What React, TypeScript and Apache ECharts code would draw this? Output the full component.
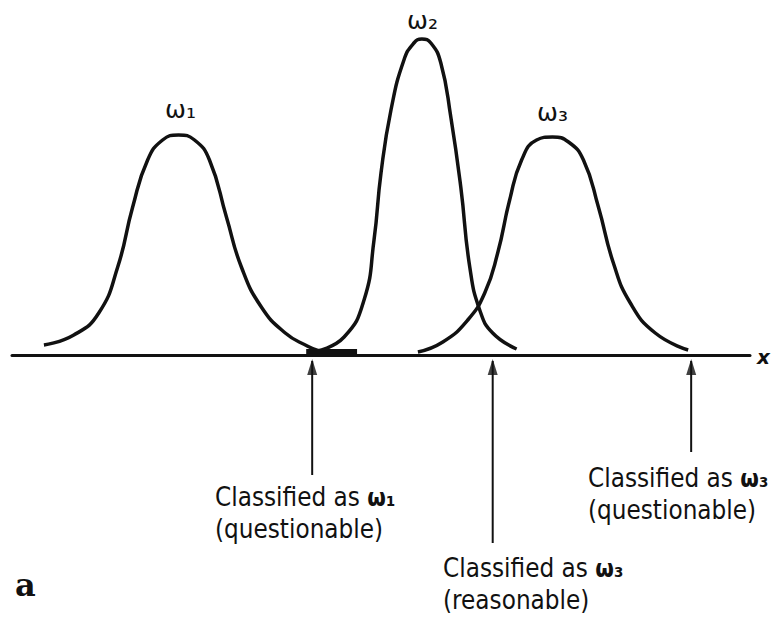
import React, { useEffect, useRef } from "react";
import * as echarts from "echarts";

// Class-conditional densities (x in axis units, y = density height in axis units)
const W1_X = [32, 62, 87, 106, 121, 136, 151, 167, 183, 198, 215, 230, 250, 274, 296, 308];
const W1_Y = [10, 20, 42, 88, 148, 195, 215, 220, 215, 195, 138, 88, 48, 22, 9, 4];
const W2_X = [306, 333, 353, 363, 370, 380, 393, 403, 411, 420, 430, 440, 450, 459, 469, 482, 506];
const W2_Y = [4, 18, 55, 115, 182, 245, 295, 312, 316, 312, 292, 238, 168, 88, 45, 22, 6];
const W3_X = [407, 432, 457, 474, 487, 499, 511, 526, 542, 558, 573, 588, 603, 620, 645, 678];
const W3_Y = [3, 13, 35, 62, 102, 155, 195, 215, 218, 213, 195, 148, 92, 52, 22, 5];

// Overlap region marker on the axis
const BAR_X = [295, 346];
const BAR_Y = [3, 3];

// Decision points marked by arrows
const ARROW_X = [301, 482, 681];
const ARROW_END = [-120, -188, -97];

const X_MIN = 0;
const X_MAX = 740;
const Y_MIN = -266;
const Y_MAX = 340;

const zip = (xs: number[], ys: number[]) => xs.map((x, i) => [x, ys[i]]);

const INK = "#111";
const TXT = "DejaVu Sans";
const SQUEEZE = 0.86;

export default function App() {
  const ref = useRef<HTMLDivElement>(null);
  useEffect(() => {
    if (!ref.current) return;
    const chart = echarts.init(ref.current, undefined, { renderer: "svg" });

    const curve = (name: string, xs: number[], ys: number[]) => ({
      name,
      type: "line",
      data: zip(xs, ys),
      smooth: 0.5,
      showSymbol: false,
      lineStyle: { color: INK, width: 3.5 },
      z: 3,
    });

    const arrowLines = ARROW_X.map((x, i) => ({
      type: "line",
      data: [
        [x, -6],
        [x, ARROW_END[i]],
      ],
      showSymbol: false,
      lineStyle: { color: INK, width: 2 },
      z: 2,
    }));

    const note = (x: number, y: number, sub: string, second: string) => ({
      type: "group",
      x,
      y,
      scaleX: SQUEEZE,
      scaleY: 1,
      children: [
        {
          type: "text",
          x: 0,
          y: 0,
          style: {
            text: `{n|Classified as }{w|ω${sub}}`,
            fill: INK,
            align: "left",
            verticalAlign: "middle",
            rich: {
              n: { fontFamily: TXT, fontSize: 27, fill: INK },
              w: { fontFamily: TXT, fontSize: 25, fontWeight: "bold", fill: INK },
            },
          },
        },
        {
          type: "text",
          x: 0,
          y: 32,
          style: {
            text: second,
            fill: INK,
            fontFamily: TXT,
            fontSize: 27,
            align: "left",
            verticalAlign: "middle",
          },
        },
      ],
    });
    const omega = (x: number, y: number, sub: string) => ({
      type: "text",
      x,
      y,
      style: {
        text: `ω${sub}`,
        fill: INK,
        fontFamily: TXT,
        fontSize: 25,
        align: "left",
        verticalAlign: "middle",
      },
    });

    chart.setOption({
      animation: false,
      backgroundColor: "#fff",
      grid: { left: 12, right: 24, top: 15, bottom: 0 },
      xAxis: {
        type: "value",
        min: X_MIN,
        max: X_MAX,
        axisLine: { show: true, onZero: true, lineStyle: { color: INK, width: 3 } },
        axisTick: { show: false },
        axisLabel: { show: false },
        splitLine: { show: false },
      },
      yAxis: {
        type: "value",
        min: Y_MIN,
        max: Y_MAX,
        show: false,
        splitLine: { show: false },
      },
      series: [
        curve("ω1", W1_X, W1_Y),
        curve("ω2", W2_X, W2_Y),
        curve("ω3", W3_X, W3_Y),
        {
          type: "line",
          data: zip(BAR_X, BAR_Y),
          showSymbol: false,
          lineStyle: { color: INK, width: 6 },
          z: 4,
        },
        ...arrowLines,
        {
          type: "scatter",
          data: ARROW_X.map((x) => [x, -12]),
          symbol: "triangle",
          symbolSize: [10, 16],
          itemStyle: { color: INK },
          z: 5,
        },
      ],
      graphic: [
        omega(165, 109, "₁"),
        omega(407, 20, "₂"),
        omega(537, 112, "₃"),
        {
          type: "text",
          x: 757,
          y: 357,
          style: {
            text: "x",
            fill: INK,
            fontFamily: TXT,
            fontSize: 20,
            fontWeight: "bold",
            fontStyle: "italic",
            align: "left",
            verticalAlign: "middle",
          },
        },
        note(215, 497, "₁", "(questionable)"),
        note(443, 568, "₃", "(reasonable)"),
        note(588, 478, "₃", "(questionable)"),
        {
          type: "text",
          x: 15,
          y: 585,
          style: {
            text: "a",
            fill: INK,
            fontFamily: "DejaVu Serif",
            fontSize: 32,
            fontWeight: "bold",
            align: "left",
            verticalAlign: "middle",
          },
        },
      ],
    });
    return () => chart.dispose();
  }, []);
  return (
    <div
      ref={ref}
      style={{ position: "absolute", left: 0, top: 0, width: 774, height: 621, background: "#fff" }}
    />
  );
}
